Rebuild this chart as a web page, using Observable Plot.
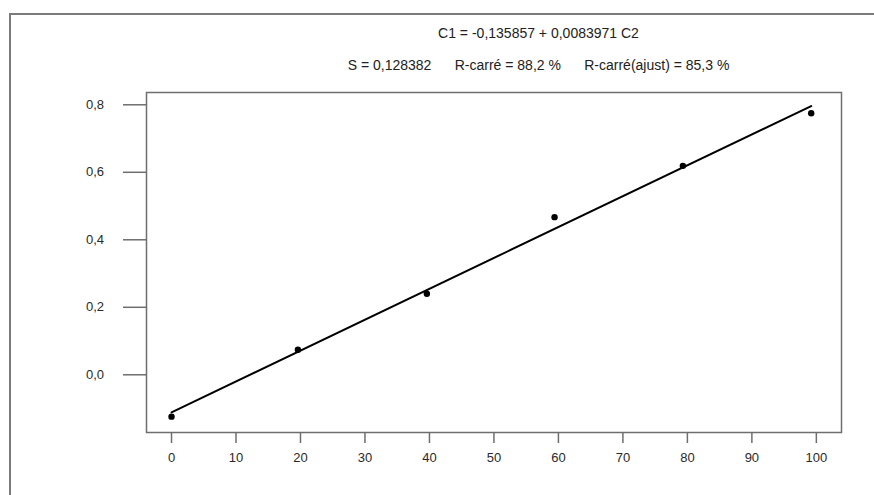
<!DOCTYPE html>
<html>
<head>
<meta charset="utf-8">
<script src="https://cdn.jsdelivr.net/npm/d3@7"></script>
<script src="https://cdn.jsdelivr.net/npm/@observablehq/plot@0.6"></script>
<style>
  html, body { margin: 0; padding: 0; background: #fff; }
  #wrap { position: relative; width: 874px; height: 495px; overflow: hidden; font-family: "Liberation Sans", Arial, sans-serif; }
  #border { position: absolute; left: 9px; top: 13px; width: 880px; height: 500px; border-left: 2.5px solid #7a7a7a; border-top: 2.5px solid #7a7a7a; }
  .ttl { position: absolute; left: 0; width: 1077px; text-align: center; font-size: 14px; color: #222; white-space: pre; }
  #chart { position: absolute; left: 0; top: 0; }
</style>
</head>
<body>
<div id="wrap">
  <div id="border"></div>
  <div class="ttl" id="t1" style="top:25px">C1 = -0,135857 + 0,0083971 C2</div>
  <div class="ttl" id="t2" style="top:57px">S = 0,128382      R-carré = 88,2 %      R-carré(ajust) = 85,3 %</div>
  <div id="chart"></div>
</div>
<script>
// Observed points (C2 = x, C1 = y)
const c2 = [0, 19.6, 39.6, 59.4, 79.3, 99.2];
const c1 = [-0.124, 0.074, 0.240, 0.467, 0.619, 0.775];
const xTicks = [0, 10, 20, 30, 40, 50, 60, 70, 80, 90, 100];
const yTicks = [0.0, 0.2, 0.4, 0.6, 0.8];

const data = c2.map((x, i) => ({x, y: c1[i]}));
const fmt = d => d.toFixed(1).replace(".", ",");

const plot = Plot.plot({
  width: 874,
  height: 495,
  marginLeft: 146,
  marginRight: 33,
  marginTop: 92,
  marginBottom: 63,
  style: { fontFamily: "Liberation Sans, Arial, sans-serif", fontSize: "13px", background: "transparent", color: "#2e2e2e" },
  x: { domain: [-3.88, 103.9], ticks: xTicks, label: null },
  y: { domain: [-0.171, 0.8364], ticks: yTicks, label: null },
  marks: [
    Plot.axisX({ ticks: xTicks, tickSize: 11, tickPadding: 9, stroke: "#6e6e6e", strokeWidth: 1.5, fill: "#2a2a2a", fontSize: 13, label: null, tickFormat: d => String(d) }),
    Plot.axisY({ ticks: yTicks, tickSize: 23, tickPadding: 19.5, stroke: "#6e6e6e", strokeWidth: 1.5, fill: "#2a2a2a", fontSize: 13, label: null, tickFormat: fmt }),
    Plot.frame({ stroke: "#6e6e6e", strokeWidth: 1.5 }),
    Plot.linearRegressionY(data, { x: "x", y: "y", ci: 0, stroke: "#000", strokeWidth: 2 }),
    Plot.dot(data, { x: "x", y: "y", r: 3.2, fill: "#000", stroke: "none" })
  ]
});
document.getElementById("chart").appendChild(plot);
</script>
</body>
</html>
